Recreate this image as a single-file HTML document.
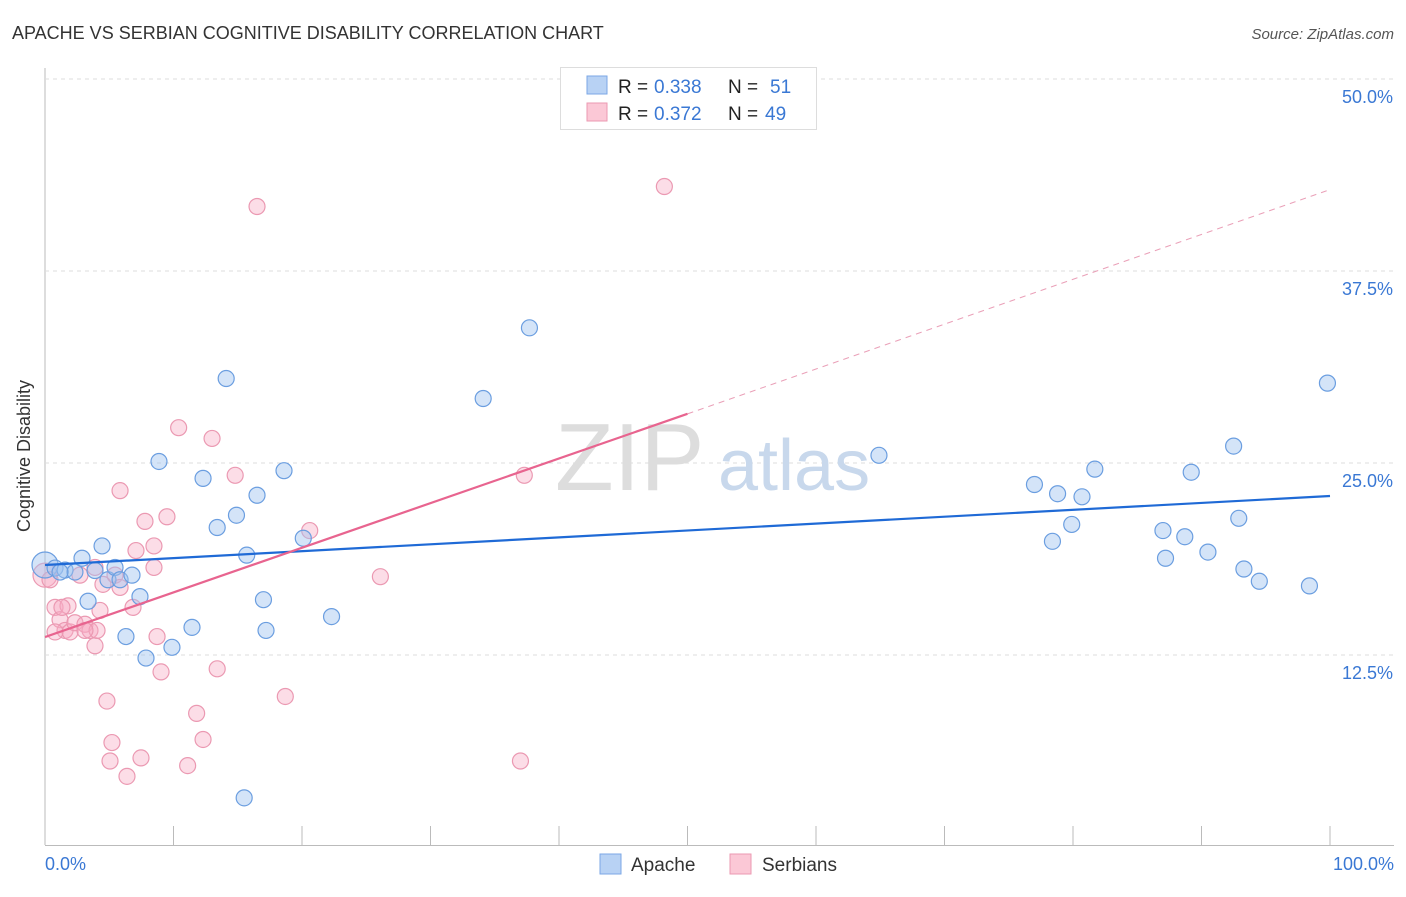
<!DOCTYPE html>
<html><head><meta charset="utf-8"><style>
body{margin:0;background:#fff;font-family:"Liberation Sans",sans-serif;}
svg text{font-family:"Liberation Sans",sans-serif;}
</style></head><body>
<svg id="chart" width="1406" height="892" viewBox="0 0 1406 892" xmlns="http://www.w3.org/2000/svg">
<text x="12" y="39" font-size="18" fill="#333">APACHE VS SERBIAN COGNITIVE DISABILITY CORRELATION CHART</text>
<text x="1394" y="39" font-size="15" fill="#555" font-style="italic" text-anchor="end">Source: ZipAtlas.com</text>
<g id="grid"></g>
<g>
<text x="555" y="490" font-size="96" fill="#ddd" font-family="Liberation Serif">ZIP</text>
<text x="718" y="490" font-size="72" fill="#c8d8ec">atlas</text>
</g>
<g id="points"></g>
<g id="lines"></g>
<text x="30" y="456" font-size="18" fill="#333" text-anchor="middle" transform="rotate(-90 30 456)">Cognitive Disability</text>
<text x="45" y="870" font-size="18" fill="#3a78d4">0.0%</text>
<text x="1394" y="870" font-size="18" fill="#3a78d4" text-anchor="end">100.0%</text>
<g>
<rect x="560.5" y="67.5" width="256" height="62" fill="#fff" stroke="#ddd"/>
<rect x="587" y="76" width="20" height="18" fill="#b8d2f4" stroke="#7ba7e6"/>
<rect x="587" y="103" width="20" height="18" fill="#fbc8d6" stroke="#eb99b2"/>
<text x="618" y="93" font-size="19" fill="#222">R =</text>
<text x="654" y="93" font-size="19" fill="#3a78d4">0.338</text>
<text x="728" y="93" font-size="19" fill="#222">N =</text>
<text x="770" y="93" font-size="19" fill="#3a78d4">51</text>
<text x="618" y="120" font-size="19" fill="#222">R =</text>
<text x="654" y="120" font-size="19" fill="#3a78d4">0.372</text>
<text x="728" y="120" font-size="19" fill="#222">N =</text>
<text x="765" y="120" font-size="19" fill="#3a78d4">49</text>
</g>
<g>
<rect x="600" y="854" width="21" height="20" fill="#b8d2f4" stroke="#7ba7e6"/>
<text x="631" y="871" font-size="19" fill="#333">Apache</text>
<rect x="730" y="854" width="21" height="20" fill="#fbc8d6" stroke="#eb99b2"/>
<text x="762" y="871" font-size="19" fill="#333">Serbians</text>
</g>
</svg>
<script>
const yTicks=[12.5,25,37.5,50];
const yTickLabels=["12.5%","25.0%","37.5%","50.0%"];
const xTicks=[0,10,20,30,40,50,60,70,80,90,100];
const apacheX=[0,0.78,1.56,2.33,2.88,4.44,3.35,3.89,4.9,5.45,5.84,6.77,7.39,6.3,7.86,8.87,9.88,11.44,12.3,13.4,14.1,14.9,15.7,16.5,17.0,17.2,18.6,20.1,22.3,15.5,34.1,37.7,64.9,77.0,78.4,78.8,79.9,80.7,81.7,87.0,87.2,88.7,89.2,90.5,92.5,92.9,93.3,94.5,98.4,99.8,1.17];
const apacheY=[18.36,18.16,18.03,17.9,18.8,19.6,16.0,18.0,17.4,18.2,17.4,17.7,16.3,13.7,12.3,25.1,13.0,14.3,24.0,20.8,30.5,21.6,19.0,22.9,16.1,14.1,24.5,20.1,15.0,3.2,29.2,33.8,25.5,23.6,19.9,23.0,21.0,22.8,24.6,20.6,18.8,20.2,24.4,19.2,26.1,21.4,18.1,17.3,17.0,30.2,17.9];
const serbX=[0,0.39,0.78,1.17,1.56,1.95,2.33,2.72,3.11,3.5,3.89,4.05,4.28,4.51,4.82,5.21,5.06,5.45,5.84,6.38,6.85,7.08,7.47,7.78,8.48,8.48,8.72,9.03,9.49,10.4,11.1,11.8,12.3,13.0,13.4,14.8,16.5,18.7,20.6,26.1,37.0,37.3,48.2,5.84,3.89,1.79,0.78,3.11,1.32];
const serbY=[17.7,17.4,15.6,14.8,14.1,14.0,14.6,17.7,14.5,14.1,13.1,14.1,15.4,17.1,9.5,6.8,5.6,17.7,16.9,4.6,15.6,19.3,5.8,21.2,19.6,18.2,13.7,11.4,21.5,27.3,5.3,8.7,7.0,26.6,11.6,24.2,41.7,9.8,20.6,17.6,5.6,24.2,43.0,23.2,18.2,15.7,14.0,14.1,15.6];
const apacheTrend=[[0,18.36],[100,22.85]];
const serbTrend=[[0,13.67],[50,28.2],[100,42.8]];
const NS="http://www.w3.org/2000/svg";
const sx=v=>45+v*12.85, sy=v=>847-v*15.36;
function mk(tag,attrs,parent){const e=document.createElementNS(NS,tag);for(const k in attrs)e.setAttribute(k,attrs[k]);parent.appendChild(e);return e;}
const grid=document.getElementById('grid');
mk('line',{x1:45,y1:68,x2:45,y2:845,stroke:'#bbb'},grid);
const xa=mk('line',{x1:45,y1:845.5,x2:1394,y2:845.5,stroke:'#bbb'},grid);


yTicks.forEach((t,i)=>{
 const g=mk('line',{x1:45,x2:1394,y1:sy(t),y2:sy(t),stroke:'#ddd','stroke-dasharray':'4 4'},grid);
 
 
 const tx=mk('text',{x:1393,y:sy(t)+24,'font-size':18,fill:'#3a78d4','text-anchor':'end'},grid);
 tx.textContent=yTickLabels[i];
 
 
});
xTicks.forEach(t=>{
 const l=mk('line',{x1:sx(t),x2:sx(t),y1:826,y2:845,stroke:'#bbb'},grid);
 
 
});
const pts=document.getElementById('points');
serbX.forEach((x,i)=>{
 const c=mk('circle',{cx:sx(x),cy:sy(serbY[i]),r:i==0?12:8,fill:'rgba(247,170,195,0.4)',stroke:'#eb99b2','stroke-width':1.2},pts);
 
 
});
apacheX.forEach((x,i)=>{
 const c=mk('circle',{cx:sx(x),cy:sy(apacheY[i]),r:i==0?13:8,fill:'rgba(160,195,240,0.45)',stroke:'#6b9ee0','stroke-width':1.2},pts);
 
 
});
const ln=document.getElementById('lines');
const a=mk('line',{x1:sx(apacheTrend[0][0]),y1:sy(apacheTrend[0][1]),x2:sx(apacheTrend[1][0]),y2:sy(apacheTrend[1][1]),stroke:'#1f6ad6','stroke-width':2.2},ln);


const s=mk('line',{x1:sx(serbTrend[0][0]),y1:sy(serbTrend[0][1]),x2:sx(serbTrend[1][0]),y2:sy(serbTrend[1][1]),stroke:'#e8648f','stroke-width':2.2},ln);


const sd=mk('line',{x1:sx(serbTrend[1][0]),y1:sy(serbTrend[1][1]),x2:sx(serbTrend[2][0]),y2:sy(serbTrend[2][1]),stroke:'#eaa0b8','stroke-width':1,'stroke-dasharray':'6 5'},ln);


</script>
</body></html>
